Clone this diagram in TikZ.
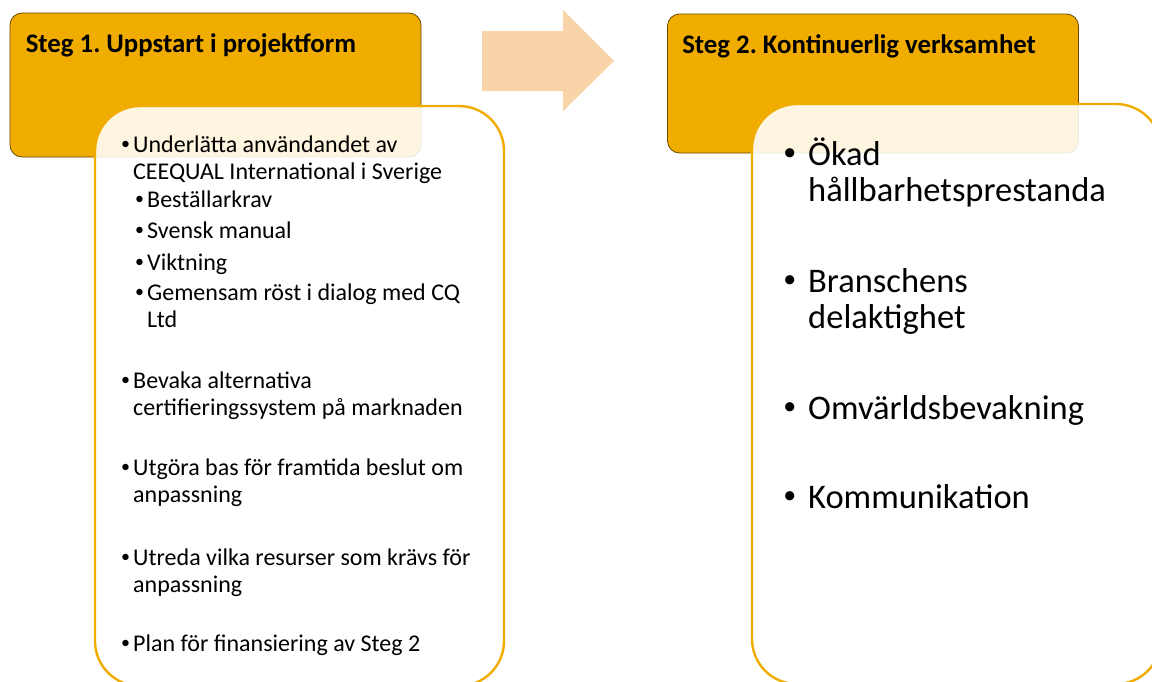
\documentclass[tikz,border=0pt]{standalone}
\usepackage{fontspec}
\usepackage{graphicx}
\setmainfont{Carlito}
\usetikzlibrary{positioning}
\frenchspacing

\definecolor{gold}{RGB}{240,173,0}
\definecolor{peach}{RGB}{248,212,168}
\definecolor{hdrline}{RGB}{105,75,0}

\newcommand{\dotitem}[1][3pt]{\llap{\raisebox{0.12em}{\scalebox{0.75}{•}}\hspace{#1}}}

\tikzset{
  header/.style={draw=hdrline, line width=0.8pt, fill=gold, rounded corners=12pt,
    minimum width=411pt, inner sep=0pt},
  panel/.style={draw=gold, line width=2.4pt, fill=white, fill opacity=0.88,
    rounded corners=45pt, minimum width=409pt, minimum height=580pt, inner sep=0pt},
  title/.style={font=\fontsize{26.8}{30}\selectfont\bfseries, inner sep=0pt, anchor=base west},
  small/.style={font=\fontsize{24}{27}\selectfont, align=left, inner sep=0pt, anchor=base west},
  large/.style={font=\fontsize{34.5}{36}\selectfont, align=left, inner sep=0pt, anchor=base west},
}

\begin{document}
\begin{tikzpicture}[x=1pt, y=-1pt]

  \useasboundingbox (0,0) rectangle (1152,681);
  \clip (0,0) rectangle (1152,681);

  % Define nodes
  \node[header, minimum height=144pt] (h_1) at (215.5,85) {};
  \node[below right=39.5pt and 16pt of h_1.north west, title] (t_1) {Steg 1. Uppstart i projektform};
  \node[panel] (p_1) at (299.5,396) {};

  \fill[peach] (482,31) -- (563,31) -- (563,10) -- (614,61) -- (563,111) -- (563,91) -- (482,91) -- cycle;

  \node[header, minimum height=139pt] (h_2) at (873,83.5) {};
  \node[below right=39.5pt and 15pt of h_2.north west, title] (t_2) {Steg 2. Kontinuerlig verksamhet};
  \node[panel] (p_2) at (956.5,394) {};

  % Steg 1 items (anchored at the last line)
  \node[small] (u_1) at (133,179) {\dotitem Underlätta användandet av\\CEEQUAL International i Sverige};
  \node[small] (u_2) at (147,207) {\dotitem Beställarkrav};
  \node[small] (u_3) at (147,238) {\dotitem Svensk manual};
  \node[small] (u_4) at (147,270) {\dotitem Viktning};
  \node[small] (u_5) at (147,327) {\dotitem Gemensam röst i dialog med CQ\\Ltd};
  \node[small] (u_6) at (133,415) {\dotitem Bevaka alternativa\\certifieringssystem på marknaden};
  \node[small] (u_7) at (133,502) {\dotitem Utgöra bas för framtida beslut om\\anpassning};
  \node[small] (u_8) at (133,592) {\dotitem Utreda vilka resurser som krävs för\\anpassning};
  \node[small] (u_9) at (133,651) {\dotitem Plan för finansiering av Steg 2};

  % Steg 2 items
  \node[large] (k_1) at (808,201) {\dotitem[12pt]Ökad\\hållbarhetsprestanda};
  \node[large] (k_2) at (808,328) {\dotitem[12pt]Branschens\\delaktighet};
  \node[large] (k_3) at (808,419) {\dotitem[12pt]Omvärldsbevakning};
  \node[large] (k_4) at (808,508) {\dotitem[12pt]Kommunikation};

\end{tikzpicture}
\end{document}
